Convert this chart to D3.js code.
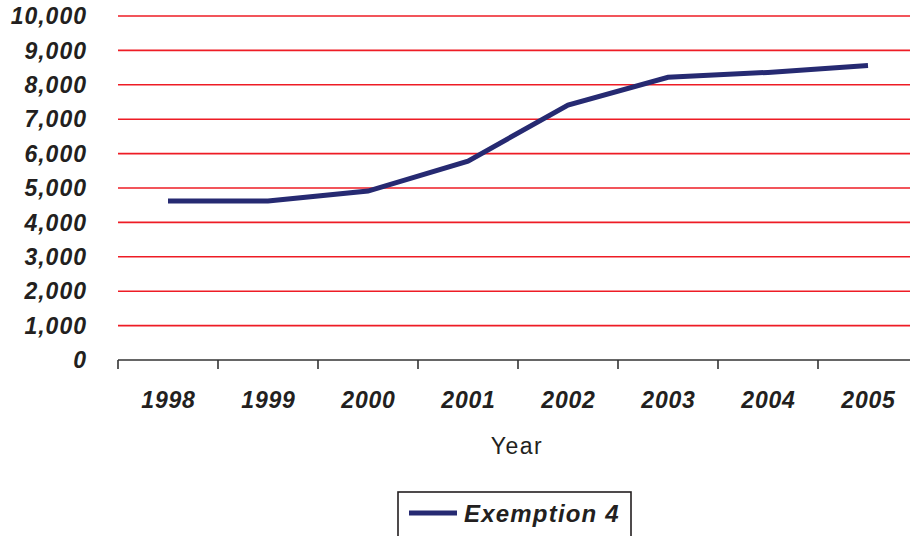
<!DOCTYPE html>
<html>
<head>
<meta charset="utf-8">
<script src="https://cdn.jsdelivr.net/npm/d3@7"></script>
<style>
  html, body { margin: 0; padding: 0; background: #fff; }
  svg { display: block; }
  text { font-family: "Liberation Sans", Arial, Helvetica, sans-serif; }
</style>
</head>
<body>
<svg id="chart" width="910" height="536"></svg>
<script>
// Yearly counts for Exemption 4
const years = ["1998", "1999", "2000", "2001", "2002", "2003", "2004", "2005"];
const exemption4 = [4620, 4620, 4910, 5780, 7410, 8220, 8360, 8560];
const yTicks = [0, 1000, 2000, 3000, 4000, 5000, 6000, 7000, 8000, 9000, 10000];
const seriesName = "Exemption 4";
const xTitle = "Year";

const svg = d3.select("#chart");

const x = d3.scaleBand().domain(years).range([118, 918]).padding(0);
const y = d3.scaleLinear().domain([0, 10000]).range([360, 16]);

// horizontal gridlines
svg.append("g")
  .selectAll("line")
  .data(yTicks.filter(d => d > 0))
  .join("line")
  .attr("x1", 118).attr("x2", 910)
  .attr("y1", d => y(d)).attr("y2", d => y(d))
  .attr("stroke", "#ee1c25")
  .attr("stroke-width", 1.6);

// y tick labels
svg.append("g")
  .selectAll("text")
  .data(yTicks)
  .join("text")
  .attr("x", 87)
  .attr("y", d => y(d))
  .attr("dy", "0.36em")
  .attr("text-anchor", "end")
  .attr("font-size", 23)
  .attr("font-weight", "bold")
  .attr("font-style", "italic")
  .attr("letter-spacing", 1)
  .attr("fill", "#231f20")
  .text(d => d3.format(",")(d));

// x axis baseline and boundary ticks
svg.append("line")
  .attr("x1", 118).attr("x2", 910)
  .attr("y1", y(0)).attr("y2", y(0))
  .attr("stroke", "#333")
  .attr("stroke-width", 1.6);

svg.append("g")
  .selectAll("line")
  .data(years)
  .join("line")
  .attr("x1", d => x(d)).attr("x2", d => x(d))
  .attr("y1", y(0)).attr("y2", y(0) + 9)
  .attr("stroke", "#333")
  .attr("stroke-width", 1.6);

// year labels
svg.append("g")
  .selectAll("text")
  .data(years)
  .join("text")
  .attr("x", d => x(d) + x.bandwidth() / 2 + 0.5)
  .attr("y", 408)
  .attr("text-anchor", "middle")
  .attr("font-size", 23)
  .attr("font-weight", "bold")
  .attr("font-style", "italic")
  .attr("letter-spacing", 0.8)
  .attr("fill", "#231f20")
  .text(d => d);

// axis title
svg.append("text")
  .attr("x", 517)
  .attr("y", 454)
  .attr("text-anchor", "middle")
  .attr("font-size", 23)
  .attr("letter-spacing", 1.5)
  .attr("fill", "#231f20")
  .text(xTitle);

// data line
const line = d3.line()
  .x((d, i) => x(years[i]) + x.bandwidth() / 2)
  .y(d => y(d));

svg.append("path")
  .datum(exemption4)
  .attr("d", line)
  .attr("fill", "none")
  .attr("stroke", "#262a72")
  .attr("stroke-width", 5)
  .attr("stroke-linejoin", "miter");

// legend
const legend = svg.append("g");
legend.append("rect")
  .attr("x", 398).attr("y", 492)
  .attr("width", 233).attr("height", 50)
  .attr("fill", "#fff")
  .attr("stroke", "#231f20")
  .attr("stroke-width", 1.6);
legend.append("line")
  .attr("x1", 409).attr("x2", 457)
  .attr("y1", 513).attr("y2", 513)
  .attr("stroke", "#262a72")
  .attr("stroke-width", 5);
legend.append("text")
  .attr("x", 464)
  .attr("y", 522)
  .attr("font-size", 24)
  .attr("font-weight", "bold")
  .attr("font-style", "italic")
  .attr("letter-spacing", 1.2)
  .attr("fill", "#231f20")
  .text(seriesName);
</script>
</body>
</html>
